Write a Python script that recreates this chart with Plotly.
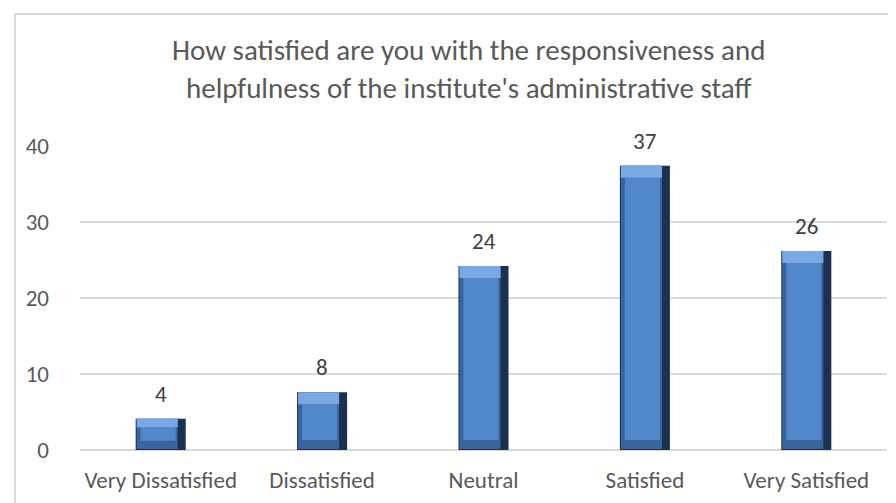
import plotly.graph_objects as go

categories = ["Very Dissatisfied", "Dissatisfied", "Neutral", "Satisfied", "Very Satisfied"]
values = [4.1, 7.6, 24.2, 37.4, 26.2]
labels = ["4", "8", "24", "37", "26"]
y_ticks = [0, 10, 20, 30, 40]

title = "How satisfied are you with the responsiveness and<br>helpfulness of the institute's administrative staff"
FONT = "Calibri, Carlito, Lato, sans-serif"

# geometry helpers (pixel sizes converted to axis units)
PX_X = 1 / 161.4   # category units per pixel
PX_Y = 40 / 304    # y units per pixel
bar_w = 0.31


def bevel(v, px, frac):
    return [min(px * PX_Y, x * frac) for x in v]


top_b = bevel(values, 12, 0.27)
bot_b = bevel(values, 10, 0.3)

fig = go.Figure()

# dark shell (right edge)
fig.add_trace(go.Bar(x=categories, y=values, width=bar_w, marker_color="#1c3050",
                     marker_line_width=0, hoverinfo="skip"))
# left / bottom bevel
fig.add_trace(go.Bar(x=categories, y=[v - 1 * PX_Y for v in values], base=[PX_Y] * 5,
                     width=bar_w - 9 * PX_X, offset=-bar_w / 2 + PX_X,
                     marker_color="#3a659c", marker_line_width=0, hoverinfo="skip"))
# body
fig.add_trace(go.Bar(x=categories, y=[v - t - b for v, t, b in zip(values, top_b, bot_b)], base=bot_b,
                     width=bar_w - 15 * PX_X, offset=-bar_w / 2 + 5 * PX_X,
                     marker_color="#5088cb", marker_line_width=0, hoverinfo="skip"))
# top highlight
fig.add_trace(go.Bar(x=categories, y=top_b, base=[v - t for v, t in zip(values, top_b)],
                     width=bar_w - 9 * PX_X, offset=-bar_w / 2 + PX_X,
                     marker_color="#7aa8e2", marker_line_width=0, hoverinfo="skip"))

fig.update_layout(
    width=896, height=503,
    margin=dict(l=72, r=17, t=138, b=61),
    paper_bgcolor="white", plot_bgcolor="white",
    barmode="overlay", showlegend=False,
    font=dict(family=FONT, color="#595959"),
)

# data labels above the bars (anchored on the bar top, shifted up in pixels)
for cat, v, lab in zip(categories, values, labels):
    fig.add_annotation(x=cat, y=v, yshift=25, text=lab, showarrow=False,
                       xanchor="center", yanchor="middle",
                       font=dict(family=FONT, size=23, color="#404040"))

# two-line title
fig.add_annotation(text=title, xref="paper", yref="paper", x=(460 - 72) / 807,
                   y=(442 - 61) / 304, xanchor="center", yanchor="middle", showarrow=False,
                   font=dict(family=FONT, size=29, color="#595959"))

fig.update_xaxes(tickfont=dict(size=23, color="#595959"), showgrid=False, showline=False,
                 ticks="", ticklabelstandoff=14, fixedrange=True)
fig.update_yaxes(range=[0, 40], tickvals=y_ticks, tickfont=dict(size=23, color="#595959"),
                 gridcolor="#d9d9d9", gridwidth=2, zeroline=True, zerolinecolor="#d9d9d9",
                 zerolinewidth=2, showline=False, ticks="", ticklabelstandoff=30, fixedrange=True)

# chart border (only top and left fall inside the picture)
fig.add_shape(type="rect", xref="paper", yref="paper",
              x0=(7 - 72) / 807, x1=1.2, y0=-0.5, y1=(442 - 6) / 304,
              line=dict(color="#d9d9d9", width=2), fillcolor="rgba(0,0,0,0)", layer="below")

fig.write_html("out.html")
